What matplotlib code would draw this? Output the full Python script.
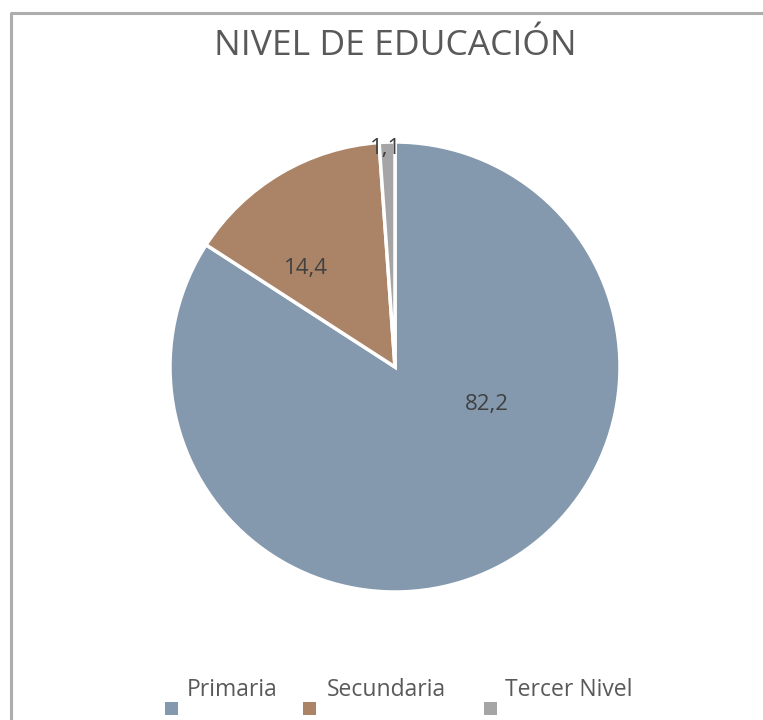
import matplotlib; matplotlib.use('Agg')
import matplotlib.pyplot as plt
from matplotlib.patches import Rectangle
import numpy as np

# datos
categorias = ['Primaria', 'Secundaria', 'Tercer Nivel']
valores = [82.2, 14.4, 1.1]
etiquetas = ['82,2', '14,4', '1,1']
colores = ['#8499AE', '#AB8468', '#A5A5A5']

W, H = 763, 720
fig = plt.figure(figsize=(W / 100, H / 100), dpi=100)
ax = fig.add_axes([0, 0, 1, 1])

cx, cy, R = 395, H - 367, 225
wedges, _ = ax.pie(valores, colors=colores, startangle=90, counterclock=False,
                   center=(cx, cy), radius=R,
                   wedgeprops=dict(edgecolor='white', linewidth=2.5))
ax.set_xlim(0, W)
ax.set_ylim(0, H)
ax.set_aspect('equal')
ax.axis('off')

# posicion de etiquetas (angulo en grados, fraccion del radio) estilo Excel
pos_etiquetas = [(-22, 0.44), (132, 0.59), (92.6, 0.97)]
for txt, (ang, fr) in zip(etiquetas, pos_etiquetas):
    a = np.radians(ang)
    ax.text(cx + fr * R * np.cos(a), cy + fr * R * np.sin(a), txt,
            ha='center', va='center', fontsize=16, color='#404040',
            family='Open Sans')

# titulo
ax.text(395, H - 46, 'NIVEL DE EDUCACIÓN', ha='center', va='center',
        fontsize=25.5, color='#595959', family='Open Sans')

# leyenda
x_cuadros = [165, 303, 484]
x_textos = [187, 327, 505]
for nombre, col, xc, xt in zip(categorias, colores, x_cuadros, x_textos):
    ax.add_patch(Rectangle((xc, H - 715), 13, 13, facecolor=col, edgecolor='none'))
    ax.text(xt, H - 690, nombre, ha='left', va='center', fontsize=16.5,
            color='#595959', family='Open Sans')

# marco
ax.plot([10.5, 10.5, W + 5], [-5, H - 12.5, H - 12.5], color='#ADADAD',
        linewidth=2.2, clip_on=False)

fig.savefig('out.png', dpi=100, facecolor='white')
